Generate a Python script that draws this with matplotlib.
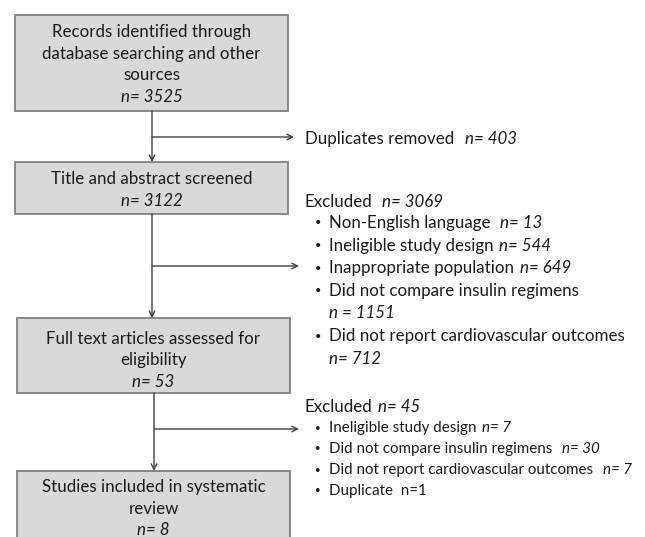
import matplotlib
matplotlib.use('Agg')
import matplotlib.pyplot as plt
from matplotlib.patches import Rectangle

# flow stages (main boxes)
stage_labels = ['Records identified through\ndatabase searching and other\nsources',
                'Title and abstract screened',
                'Full text articles assessed for\neligibility',
                'Studies included in systematic\nreview']
stage_n = [3525, 3122, 53, 8]

dup_n = 403
excl1_n = 3069
excl1_reasons = ['Non-English language', 'Ineligible study design', 'Inappropriate population',
                 'Did not compare insulin regimens', 'Did not report cardiovascular outcomes']
excl1_counts = [13, 544, 649, 1151, 712]
excl2_n = 45
excl2_reasons = ['Ineligible study design', 'Did not compare insulin regimens',
                 'Did not report cardiovascular outcomes', 'Duplicate']
excl2_counts = [7, 30, 7, 1]

plt.rcParams['font.family'] = ['Lato', 'DejaVu Sans']
fig = plt.figure(figsize=(6.45, 5.37), dpi=100)
ax = fig.add_axes([0, 0, 1, 1])
ax.set_xlim(0, 645)
ax.set_ylim(537, 0)
ax.axis('off')

fc = '#d9d9d9'
ec = '#7f7f7f'
lc = '#404040'
tc = '#1a1a1a'
fs = 12.2
fs2 = 10.9

def after(t, s, size, gap=0):
    # italic count placed right after a text object
    ax.annotate(s, xy=(1, 0.5), xycoords=t, xytext=(gap, 0), textcoords='offset points',
                ha='left', va='center', fontsize=size, color=tc, style='italic')

# boxes: (x0, y0, x1, y1) in pixels
boxes = [(15, 15, 288, 111), (15, 162, 288, 214), (17, 318, 290, 393), (17, 471, 290, 560)]
nline_y = [97, 201, 382, 530]
for (x0, y0, x1, y1), lab, n, ny in zip(boxes, stage_labels, stage_n, nline_y):
    ax.add_patch(Rectangle((x0, y0), x1 - x0, y1 - y0, fc=fc, ec=ec, lw=1.3))
    nl = lab.count('\n') + 1
    ys = ny - 21.5 * nl
    for i, line in enumerate(lab.split('\n')):
        ax.text((x0 + x1) / 2, ys + i * 21.5, line, ha='center', va='center', fontsize=fs, color=tc)
    ax.text((x0 + x1) / 2, ny, 'n= %d' % n, ha='center', va='center', fontsize=fs, color=tc, style='italic')

# vertical arrows and side branches
cx = [152, 152, 154]
branch_y = [137, 266, 429]
branch_x = [294, 299, 299]
for i in range(3):
    ytop = boxes[i][3]
    ybot = boxes[i + 1][1]
    ax.annotate('', xy=(cx[i], ybot), xytext=(cx[i], ytop),
                arrowprops=dict(arrowstyle='->', color=lc, lw=1.0, shrinkA=0, shrinkB=0))
    ax.annotate('', xy=(branch_x[i], branch_y[i]), xytext=(cx[i], branch_y[i]),
                arrowprops=dict(arrowstyle='->', color=lc, lw=1.0, shrinkA=0, shrinkB=0))

# duplicates removed
t = ax.text(305, 139, 'Duplicates removed', ha='left', va='center', fontsize=fs, color=tc)
after(t, 'n= %d' % dup_n, fs, gap=8)

# exclusion list 1
t = ax.text(305, 202, 'Excluded', ha='left', va='center', fontsize=fs, color=tc)
after(t, 'n= %d' % excl1_n, fs, gap=7)
y = 223
for r, c in zip(excl1_reasons, excl1_counts):
    ax.text(318, y, '\u2022', ha='center', va='center', fontsize=8, color=tc)
    t = ax.text(329, y, r, ha='left', va='center', fontsize=fs, color=tc)
    if len(r) > 25:
        y += 22.6
        lab = ('n = %d' if c == 1151 else 'n= %d') % c
        ax.text(329, y, lab, ha='left', va='center', fontsize=fs, color=tc, style='italic')
    else:
        after(t, 'n= %d' % c, fs, gap=7 if c == 13 else 4)
    y += 22.6

# exclusion list 2
t = ax.text(305, 407, 'Excluded', ha='left', va='center', fontsize=fs, color=tc)
after(t, 'n= %d' % excl2_n, fs, gap=4)
y = 428
for r, c in zip(excl2_reasons, excl2_counts):
    ax.text(318, y, '\u2022', ha='center', va='center', fontsize=7, color=tc)
    if r == 'Duplicate':
        ax.text(329, y, r + '  n=%d' % c, ha='left', va='center', fontsize=fs2, color=tc)
    else:
        t = ax.text(329, y, r, ha='left', va='center', fontsize=fs2, color=tc)
        after(t, 'n= %d' % c, fs2, gap=4 if r.startswith('Inel') else 7)
    y += 21

fig.savefig('out.png', dpi=100, facecolor='white')
